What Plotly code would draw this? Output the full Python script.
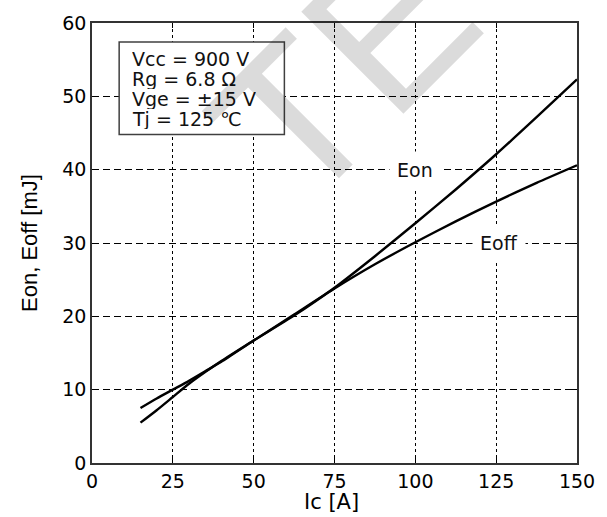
import plotly.graph_objects as go

# Switching energy vs collector current
ic = [15, 20, 25, 30, 35, 40, 50, 62.5, 75, 87.5, 100, 112.5, 125, 137.5, 150]
e_on = [5.5, 7.2, 9.0, 10.8, 12.4, 13.9, 16.7, 20.1, 23.9, 28.2, 32.7, 37.3, 42.1, 47.15, 52.3]
e_off = [7.5, 8.8, 10.0, 11.2, 12.5, 13.8, 16.7, 20.25, 23.8, 27.1, 30.1, 32.95, 35.65, 38.2, 40.6]

x_ticks = [0, 25, 50, 75, 100, 125, 150]
y_ticks = [0, 10, 20, 30, 40, 50, 60]

conditions = ["Vcc = 900 V", "Rg = 6.8 Ω", "Vge = ±15 V", "Tj = 125 ℃"]

TEXT_FONT = "DejaVu Sans"
LABEL_FONT = "Liberation Sans, Arial"

fig = go.Figure()
for name, ys in (("Eon", e_on), ("Eoff", e_off)):
    fig.add_trace(go.Scatter(
        x=ic, y=ys, mode="lines", name=name,
        line=dict(color="black", width=2.4, shape="spline", smoothing=0.6),
        showlegend=False, hoverinfo="skip",
    ))

axis_common = dict(
    showline=True, mirror="ticks", linecolor="#333333", linewidth=1.6,
    ticks="inside", ticklen=5, tickcolor="black", tickwidth=1,
    showgrid=True, gridcolor="black", gridwidth=1,
    zeroline=False,
    tickfont=dict(family=TEXT_FONT, size=19, color="black"),
)

fig.update_xaxes(range=[0, 150], tickvals=x_ticks, griddash="3px,3px", **axis_common)
fig.update_yaxes(range=[0, 60], tickvals=y_ticks, griddash="7px,4px", **axis_common)

# Test-condition box
fig.add_shape(type="rect", xref="x", yref="y", x0=8.4, x1=59.5, y0=44.8, y1=57.4,
              fillcolor="white", line=dict(color="#404040", width=1.5), layer="above")
line_y = [55.07, 52.3, 49.6, 46.9]
annotations = []
for txt, yy in zip(conditions, line_y):
    annotations.append(dict(x=12.2, y=yy, xref="x", yref="y", text=txt, showarrow=False,
                            xanchor="left", yanchor="middle", height=20, borderpad=0,
                            font=dict(family=TEXT_FONT, size=19, color="#111111")))

# Curve labels
annotations.append(dict(x=100, y=40, xref="x", yref="y", text="Eon", showarrow=False,
                        bgcolor="white", borderpad=7,
                        font=dict(family=TEXT_FONT, size=19, color="#111111")))
annotations.append(dict(x=126, y=30, xref="x", yref="y", text="Eoff", showarrow=False,
                        bgcolor="white", borderpad=7,
                        font=dict(family=TEXT_FONT, size=19, color="#111111")))

# Axis titles
annotations.append(dict(x=0.4947, y=-0.088, xref="paper", yref="paper", text="Ic [A]",
                        showarrow=False, xanchor="center", yanchor="middle",
                        font=dict(family=TEXT_FONT, size=21, color="black")))
annotations.append(dict(x=-0.13, y=0.5, xref="paper", yref="paper", text="Eon, Eoff [mJ]",
                        showarrow=False, xanchor="center", yanchor="middle", textangle=-90,
                        font=dict(family=LABEL_FONT, size=22, color="black")))

# Faint diagonal watermark
annotations.append(dict(x=0.52, y=0.892, xref="paper", yref="paper", text="TE",
                        showarrow=False, textangle=-45, xanchor="center", yanchor="middle",
                        font=dict(family=LABEL_FONT, size=210, color="rgba(0,0,0,0.14)")))

fig.update_layout(
    width=607, height=517,
    margin=dict(l=92, r=23, t=20, b=54),
    paper_bgcolor="white", plot_bgcolor="white",
    annotations=annotations,
)

fig.write_html("out.html")
